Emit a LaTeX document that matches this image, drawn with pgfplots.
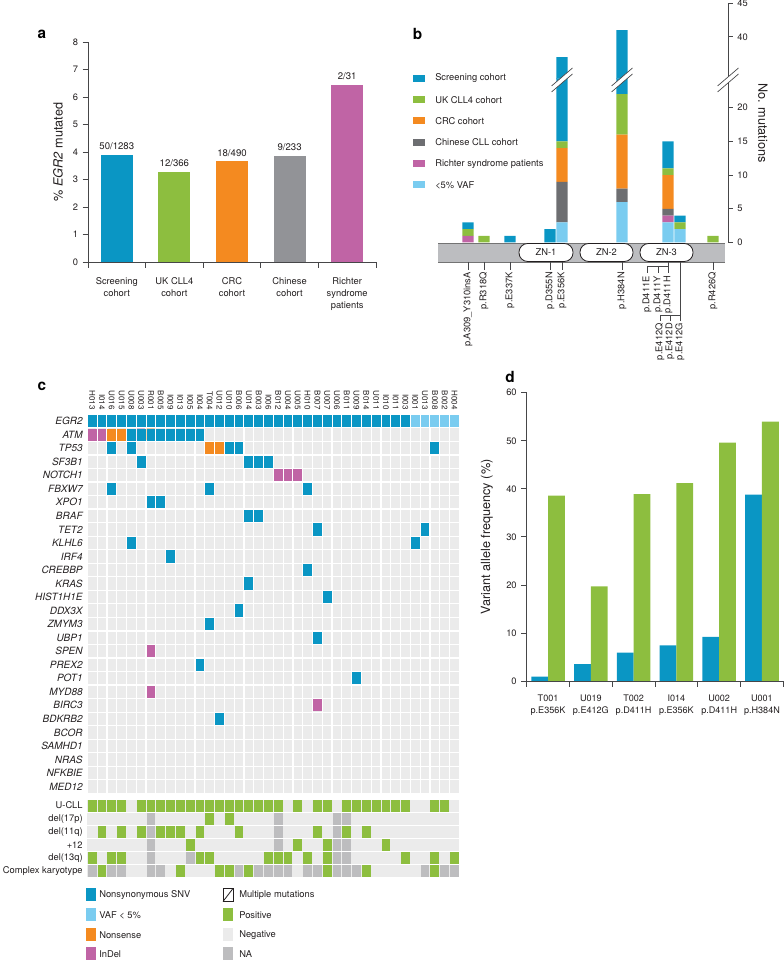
\documentclass[border=0pt]{standalone}
\usepackage{fontspec}
\setmainfont{TeX Gyre Heros}
\usepackage{pgfplots}
\pgfplotsset{compat=1.18}
\usepackage{pgfplotstable}

\definecolor{cblue}{RGB}{10,150,196}
\definecolor{clblue}{RGB}{122,204,240}
\definecolor{cgreen}{RGB}{141,190,63}
\definecolor{corange}{RGB}{244,138,32}
\definecolor{cpink}{RGB}{192,100,165}
\definecolor{cgrey}{RGB}{146,147,151}
\definecolor{cdgrey}{RGB}{109,110,113}
\definecolor{cneg}{RGB}{235,235,235}
\definecolor{cna}{RGB}{189,189,191}
\definecolor{cband}{RGB}{188,189,192}
\definecolor{ctext}{RGB}{35,31,32}
\definecolor{cax}{RGB}{70,70,72}

\pgfdeclareplotmark{cellg}{\pgfpathrectangle{\pgfqpoint{-3.3pt}{-4.6pt}}{\pgfqpoint{6.6pt}{9.2pt}}\pgfusepathqfill}
\pgfdeclareplotmark{cellk}{\pgfpathrectangle{\pgfqpoint{-3.3pt}{-4.45pt}}{\pgfqpoint{6.6pt}{8.9pt}}\pgfusepathqfill}

\pgfplotsset{
  /pgf/number format/assume math mode=true,
  every axis/.append style={scale only axis, anchor=south west, enlargelimits=false},
  tick label style={font=\fontsize{7}{8.4}\selectfont, text=ctext},
  label style={font=\fontsize{9.5}{11}\selectfont, text=ctext},
}

% panel b: stacked counts per mutation position (x = slot position along the protein)
\pgfplotstableread{
pos lb pk gy or gr bl
468 0 1 0 0 1 1
484 0 0 0 0 1 0
510 0 0 0 0 0 1
550 0 0 0 0 0 2
562 3 0 6 5 1 22
622 6 0 2 8 6 19
668 3 1 1 5 1 4
680 2 0 0 0 1 1
713 0 0 0 0 1 0
}\tabB
% the two bars that reach above the axis break
\pgfplotstableread{
pos lb pk gy or gr bl
562 3 0 6 5 1 22
622 6 0 2 8 6 19
}\tabBup

\pgfplotsset{
  bstyle/.style={width=217.5pt, xmin=438, xmax=728,
    ybar stacked, bar width=8.6pt,
    axis y line*=right, axis x line=none,
    axis line style={line width=0.6pt, cax},
    tick align=outside, major tick length=3.5pt,
    every tick/.append style={line width=0.6pt, cax}},
  cstyle/.style={width=279pt, xmin=-0.5, xmax=37.5,
    separate axis lines, axis line style={draw=none},
    axis background/.style={fill=cneg},
    minor xtick={-0.5,0.5,...,37.5},
    grid=minor, minor grid style={white, line width=0.9pt},
    major tick length=0pt, minor tick length=0pt,
    point meta=explicit symbolic},
}

\begin{document}
\begin{tikzpicture}
\useasboundingbox (0,0) rectangle (588pt,720pt);

% ================= panel a =================
\begin{axis}[at={(66pt,523.5pt)}, width=216pt, height=165pt,
  xmin=-0.5, xmax=4.5, ymin=0, ymax=8,
  axis x line*=bottom, axis y line*=left,
  axis line style={line width=0.6pt, cax},
  tick align=outside, major tick length=4pt, minor tick length=4.5pt,
  every tick/.append style={line width=0.6pt, cax},
  ytick={0,1,...,8},
  xtick={0,...,4},
  xticklabels={Screening\\cohort, UK CLL4\\cohort, CRC\\cohort, Chinese\\cohort, Richter\\syndrome\\patients},
  xticklabel style={align=center, yshift=-4pt, font=\fontsize{7}{9}\selectfont},
  minor xtick={-0.5,0.5,...,4.5},
  major x tick style={draw=none},
  ylabel={\% \textit{EGR2} mutated},
  ylabel style={at={(axis description cs:-0.104,0.5)}, anchor=center},
  ybar, bar width=24pt,
  nodes near coords, point meta=explicit symbolic,
  every node near coord/.append style={font=\fontsize{7.2}{8}\selectfont, text=ctext},
]
\addplot[fill=cblue, draw=none, bar shift=0pt] coordinates {(0,3.897) [50/1283]};
\addplot[fill=cgreen, draw=none, bar shift=0pt] coordinates {(1,3.279) [12/366]};
\addplot[fill=corange, draw=none, bar shift=0pt] coordinates {(2,3.673) [18/490]};
\addplot[fill=cgrey, draw=none, bar shift=0pt] coordinates {(3,3.863) [9/233]};
\addplot[fill=cpink, draw=none, bar shift=0pt] coordinates {(4,6.452) [2/31]};
\end{axis}

% ================= panel b (broken axis: lower and upper part) =================
\begin{axis}[bstyle, at={(328.5pt,538.125pt)}, height=122.85pt,
  ymin=0, ymax=24.3, ytick={0,5,10,15,20}]
\addplot[fill=clblue, draw=none] table[x=pos,y=lb]{\tabB};
\addplot[fill=cpink, draw=none] table[x=pos,y=pk]{\tabB};
\addplot[fill=cdgrey, draw=none] table[x=pos,y=gy]{\tabB};
\addplot[fill=corange, draw=none] table[x=pos,y=or]{\tabB};
\addplot[fill=cgreen, draw=none] table[x=pos,y=gr]{\tabB};
\addplot[fill=cblue, draw=none] table[x=pos,y=bl]{\tabB};
\end{axis}
\begin{axis}[bstyle, at={(328.5pt,660.975pt)}, height=56.625pt,
  ymin=33.8, ymax=45, ytick={40,45}]
\addplot[fill=clblue, draw=none] table[x=pos,y=lb]{\tabBup};
\addplot[fill=cpink, draw=none] table[x=pos,y=pk]{\tabBup};
\addplot[fill=cdgrey, draw=none] table[x=pos,y=gy]{\tabBup};
\addplot[fill=corange, draw=none] table[x=pos,y=or]{\tabBup};
\addplot[fill=cgreen, draw=none] table[x=pos,y=gr]{\tabBup};
\addplot[fill=cblue, draw=none] table[x=pos,y=bl]{\tabBup};
\end{axis}

% ================= panel c: mutations =================
\begin{axis}[cstyle, at={(65.5pt,125pt)}, height=284.25pt,
  ymin=-0.5, ymax=27.5,
  minor ytick={-0.5,0.5,...,27.5},
  xtick={0,...,37},
  xticklabels={H013,I014,U016,U015,U008,U003,R001,B005,I009,I013,I005,I004,T004,U012,U010,B006,U014,B003,I006,B012,U004,U005,H010,B007,U007,U006,B011,U009,B014,U011,I010,I011,I003,I001,U013,B008,B002,H004},
  xticklabel pos=right,
  xticklabel style={rotate=-90, anchor=east, font=\fontsize{6}{6}\selectfont},
  ytick={0,...,27},
  yticklabels={MED12,NFKBIE,NRAS,SAMHD1,BCOR,BDKRB2,BIRC3,MYD88,POT1,PREX2,SPEN,UBP1,ZMYM3,DDX3X,HIST1H1E,KRAS,CREBBP,IRF4,KLHL6,TET2,BRAF,XPO1,FBXW7,NOTCH1,SF3B1,TP53,ATM,EGR2},
  yticklabel style={font=\fontsize{7.5}{8}\selectfont\itshape},
]
\addplot[scatter, only marks, scatter/classes={
    b={mark=cellg, cblue}, l={mark=cellg, clblue},
    o={mark=cellg, corange}, p={mark=cellg, cpink}}]
coordinates {
(0,27)[b] (1,27)[b] (2,27)[b] (3,27)[b] (4,27)[b] (5,27)[b] (6,27)[b] (7,27)[b] (8,27)[b] (9,27)[b]
(10,27)[b] (11,27)[b] (12,27)[b] (13,27)[b] (14,27)[b] (15,27)[b] (16,27)[b] (17,27)[b] (18,27)[b] (19,27)[b]
(20,27)[b] (21,27)[b] (22,27)[b] (23,27)[b] (24,27)[b] (25,27)[b] (26,27)[b] (27,27)[b] (28,27)[b] (29,27)[b]
(30,27)[b] (31,27)[b] (32,27)[b] (33,27)[l] (34,27)[l] (35,27)[l] (36,27)[l] (37,27)[l]
(0,26)[p] (1,26)[p] (2,26)[o] (3,26)[o] (4,26)[b] (5,26)[b] (6,26)[b] (7,26)[b] (8,26)[b] (9,26)[b] (10,26)[b] (11,26)[b]
(2,25)[b] (4,25)[b] (12,25)[o] (13,25)[o] (14,25)[b] (15,25)[b] (35,25)[b]
(5,24)[b] (16,24)[b] (17,24)[b] (18,24)[b]
(19,23)[p] (20,23)[p] (21,23)[p]
(2,22)[b] (12,22)[b] (22,22)[b]
(6,21)[b] (7,21)[b]
(16,20)[b] (17,20)[b]
(23,19)[b] (34,19)[b]
(4,18)[b] (33,18)[b]
(8,17)[b]
(22,16)[b]
(16,15)[b]
(24,14)[b]
(15,13)[b]
(12,12)[b]
(23,11)[b]
(6,10)[p]
(11,9)[b]
(27,8)[b]
(6,7)[p]
(23,6)[p]
(13,5)[b]
};
% multiple mutations in ATM: second mutation type in the upper-left half
\addplot[fill=cpink, draw=none] coordinates {(4.55,26.453) (5.45,26.453) (4.55,25.547)};
\addplot[fill=corange, draw=none] coordinates {(5.55,26.453) (6.45,26.453) (5.55,25.547)};
\addplot[white, line width=0.6pt] coordinates {(-0.45,25.547) (0.45,26.453)};
\addplot[white, line width=0.6pt] coordinates {(4.55,25.547) (5.45,26.453)};
\addplot[white, line width=0.6pt] coordinates {(5.55,25.547) (6.45,26.453)};
\addplot[white, line width=0.6pt] coordinates {(8.55,25.547) (9.45,26.453)};
\end{axis}

% ================= panel c: clinical features =================
\begin{axis}[cstyle, at={(65.5pt,61.5pt)}, height=59.25pt,
  ymin=-0.5, ymax=5.5,
  minor ytick={-0.5,0.5,...,5.5},
  xtick=\empty,
  ytick={0,...,5},
  yticklabels={Complex karyotype,del(13q),+12,del(11q),del(17p),U-CLL},
  yticklabel style={font=\fontsize{7}{8}\selectfont},
]
\addplot[scatter, only marks, scatter/classes={
    g={mark=cellk, cgreen}, n={mark=cellk, cna}}]
coordinates {
(0,5)[g] (1,5)[g] (2,5)[g] (3,5)[g] (5,5)[g] (6,5)[g] (7,5)[g] (8,5)[g] (9,5)[g] (10,5)[g] (11,5)[g]
(12,5)[g] (13,5)[g] (14,5)[g] (15,5)[g] (16,5)[g] (17,5)[g] (18,5)[g] (19,5)[g] (21,5)[g] (23,5)[g]
(24,5)[g] (26,5)[g] (27,5)[g] (28,5)[g] (29,5)[g] (30,5)[g] (31,5)[g] (32,5)[g] (35,5)[g] (36,5)[g]
(6,4)[n] (12,4)[g] (14,4)[g] (19,4)[n] (25,4)[n] (26,4)[n]
(1,3)[g] (3,3)[g] (5,3)[g] (6,3)[n] (7,3)[g] (8,3)[g] (9,3)[g] (11,3)[g] (15,3)[g] (19,3)[n]
(23,3)[g] (25,3)[n] (26,3)[g] (28,3)[g]
(6,2)[n] (10,2)[g] (19,2)[n] (21,2)[g] (24,2)[g] (25,2)[n] (26,2)[n] (30,2)[g]
(0,1)[g] (2,1)[g] (3,1)[g] (6,1)[n] (10,1)[n] (11,1)[g] (12,1)[g] (18,1)[g] (19,1)[g] (20,1)[g]
(22,1)[g] (24,1)[g] (25,1)[n] (26,1)[n] (32,1)[g] (35,1)[g] (37,1)[g]
(0,0)[n] (1,0)[g] (2,0)[n] (3,0)[n] (6,0)[n] (7,0)[n] (9,0)[g] (13,0)[g] (14,0)[g] (15,0)[n]
(16,0)[g] (17,0)[n] (18,0)[n] (19,0)[n] (20,0)[n] (22,0)[n] (23,0)[n] (24,0)[g] (25,0)[n]
(26,0)[n] (27,0)[n] (28,0)[g] (34,0)[n] (35,0)[g] (36,0)[n] (37,0)[n]
};
\end{axis}

% ================= panel d =================
\begin{axis}[at={(395pt,209.25pt)}, width=192.5pt, height=216.2pt,
  xmin=-0.5, xmax=5.5, ymin=0, ymax=60,
  axis x line*=bottom, axis y line*=left,
  axis line style={line width=0.6pt, cax},
  tick align=outside, major tick length=4pt, minor tick length=4.5pt,
  every tick/.append style={line width=0.6pt, cax},
  ytick={0,10,...,60},
  xtick={0,...,5},
  xticklabels={T001\\p.E356K, U019\\p.E412G, T002\\p.D411H, I014\\p.E356K, U002\\p.D411H, U001\\p.H384N},
  xticklabel style={align=center, yshift=-3pt, font=\fontsize{6.8}{9}\selectfont},
  minor xtick={-0.5,0.5,...,5.5},
  major x tick style={draw=none},
  ylabel={Variant allele frequency (\%)},
  ylabel style={at={(axis description cs:-0.155,0.5)}, anchor=center},
  ybar=0pt, bar width=12.6pt,
]
\addplot[fill=cblue, draw=none] coordinates {(0,0.9) (1,3.5) (2,5.9) (3,7.4) (4,9.2) (5,38.8)};
\addplot[fill=cgreen, draw=none] coordinates {(0,38.6) (1,19.7) (2,38.9) (3,41.2) (4,49.6) (5,54.0)};
\end{axis}

% ================= annotations in pixel coordinates =================
\begin{scope}[shift={(0pt,720pt)}, x=0.75pt, y=-0.75pt]
  % panel letters
  \node[font=\bfseries\fontsize{11.5}{12}\selectfont, inner sep=0pt] at (42,34) {a};
  \node[font=\bfseries\fontsize{11.5}{12}\selectfont, inner sep=0pt] at (417.5,34) {b};
  \node[font=\bfseries\fontsize{11.5}{12}\selectfont, inner sep=0pt] at (42,386) {c};
  \node[font=\bfseries\fontsize{11.5}{12}\selectfont, inner sep=0pt] at (510,377) {d};

  % ---- panel b: axis breaks
  \foreach \cx in {562,622,728}{
    \fill[white] ({\cx-10.5},86) -- ({\cx+10.5},68) -- ({\cx+10.5},74) -- ({\cx-10.5},92) -- cycle;
    \draw[cax, line width=0.5pt] ({\cx-10.5},86) -- ({\cx+10.5},68) ({\cx-10.5},92) -- ({\cx+10.5},74);
  }
  % ---- panel b: y label
  \node[rotate=-90, font=\fontsize{9.5}{11}\selectfont, text=ctext] at (763,123) {No. mutations};
  % ---- panel b: legend
  \foreach \c/\t/\yy in {cblue/Screening cohort/78.3, cgreen/UK CLL4 cohort/99.7, corange/CRC cohort/121,
      cdgrey/Chinese CLL cohort/142.5, cpink/Richter syndrome patients/164, clblue/<5\% VAF/185}{
    \fill[\c] (413,{\yy-3.5}) rectangle (425,{\yy+3.5});
    \node[anchor=west, font=\fontsize{7}{8}\selectfont, text=ctext, inner sep=0pt] at (435,\yy) {\t};
  }
  % ---- panel b: protein domain band
  \fill[cband] (438,243) rectangle (725,262);
  \draw[black!55, line width=0.6pt] (438,243) -- (725,243) (438,262) -- (725,262);
  \foreach \xa/\xb/\lab in {519/573/ZN-1, 580/633/ZN-2, 640/693/ZN-3}{
    \draw[draw=ctext, fill=white, line width=0.6pt, rounded corners=6.5pt] (\xa,243.5) rectangle (\xb,261.5);
    \node[font=\fontsize{7}{8}\selectfont, text=ctext] at ({(\xa+\xb)/2},252.5) {\lab};
  }
  % mutation ticks and labels
  \foreach \xx/\lab in {468/p.A309\_Y310insA, 484/p.R318Q, 510/p.E337K, 550/p.D355N, 562/p.E356K, 622/p.H384N, 713/p.R426Q}{
    \draw[cax, line width=0.5pt] (\xx,262) -- (\xx,270);
    \node[rotate=90, anchor=east, font=\fontsize{7}{8}\selectfont, text=ctext, inner sep=0pt] at (\xx,272) {\lab};
  }
  \draw[cax, line width=0.5pt] (668,262) -- (668,273) (647,266) -- (668,266) (647,266) -- (647,273) (658,266) -- (658,273);
  \foreach \xx/\lab in {647/p.D411E, 658/p.D411Y, 668/p.D411H}{
    \node[rotate=90, anchor=east, font=\fontsize{7}{8}\selectfont, text=ctext, inner sep=0pt] at (\xx,276) {\lab};
  }
  \draw[cax, line width=0.5pt] (680,262) -- (680,321) (660,315) -- (680,315) (660,315) -- (660,321) (670,315) -- (670,321);
  \foreach \xx/\lab in {660/p.E412Q, 670/p.E412D, 680/p.E412G}{
    \node[rotate=90, anchor=east, font=\fontsize{7}{8}\selectfont, text=ctext, inner sep=0pt] at (\xx,323) {\lab};
  }

  % ---- panel c: legend
  \foreach \c/\t/\yy in {cblue/Nonsynonymous SNV/895, clblue/VAF < 5\%/915, corange/Nonsense/935, cpink/InDel/954}{
    \fill[\c] (86,{\yy-6.5}) rectangle (96,{\yy+6.5});
    \node[anchor=west, font=\fontsize{7}{8}\selectfont, text=ctext, inner sep=0pt] at (99,\yy) {\t};
  }
  \draw[ctext, line width=0.6pt, fill=white] (223,888.5) rectangle (233,901.5);
  \draw[ctext, line width=0.6pt] (223,901.5) -- (233,888.5);
  \node[anchor=west, font=\fontsize{7}{8}\selectfont, text=ctext, inner sep=0pt] at (239,895) {Multiple mutations};
  \foreach \c/\t/\yy in {cgreen/Positive/915, cneg/Negative/935, cna/NA/954}{
    \fill[\c] (223,{\yy-6.5}) rectangle (233,{\yy+6.5});
    \node[anchor=west, font=\fontsize{7}{8}\selectfont, text=ctext, inner sep=0pt] at (239,\yy) {\t};
  }
\end{scope}
\end{tikzpicture}
\end{document}
